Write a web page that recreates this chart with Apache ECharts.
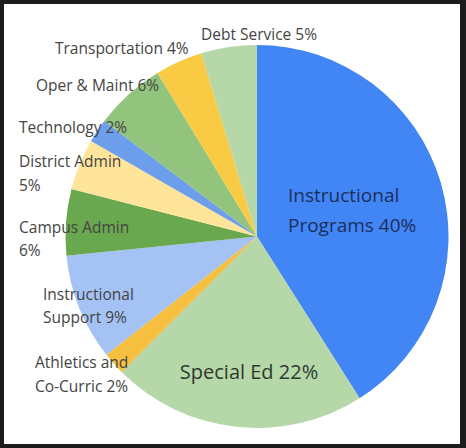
<!DOCTYPE html>
<html>
<head>
<meta charset="utf-8">
<script src="https://cdn.jsdelivr.net/npm/echarts@6/dist/echarts.min.js"></script>
<style>
html,body{margin:0;padding:0;background:#1c1c1c;width:466px;height:448px;overflow:hidden;}
#frame{position:absolute;left:4px;top:4px;width:456px;height:440px;background:#ffffff;}
#chart{position:absolute;left:-4px;top:-4px;width:466px;height:448px;}
</style>
</head>
<body>
<div id="frame"><div id="chart"></div></div>
<script>
// Data (clockwise from 12 o'clock)
const categories = ['Instructional\nPrograms', 'Special Ed', 'Athletics and\nCo-Curric', 'Instructional\nSupport', 'Campus Admin\n', 'District Admin\n', 'Technology', 'Oper & Maint', 'Transportation', 'Debt Service'];
const values = [41, 21.5, 1.9, 9, 5.6, 4.3, 2, 6, 4, 4.7];
const pctLabels = ['40%', '22%', '2%', '9%', '6%', '5%', '2%', '6%', '4%', '5%'];
const colors = ['#4285f4', '#b6d7a8', '#f6bf3f', '#a4c2f4', '#6aa84f', '#ffe599', '#6d9eeb', '#93c47d', '#f9cb45', '#b6d7a8'];

// label layout (style, not data)
const labelPos = [
  {x: 288, y: 210, align: 'left', size: 19, color: '#1b2f5e', lh: 30},
  {x: 249, y: 371, align: 'center', size: 20, color: '#2e3a2e', lh: 24},
  {x: 35, y: 374, align: 'left', size: 15.5, color: '#444444', lh: 24},
  {x: 43, y: 305, align: 'left', size: 15.5, color: '#444444', lh: 23},
  {x: 19, y: 238, align: 'left', size: 15.5, color: '#444444', lh: 23},
  {x: 19, y: 173, align: 'left', size: 15.5, color: '#444444', lh: 24},
  {x: 19, y: 127, align: 'left', size: 15.5, color: '#444444', lh: 20},
  {x: 36, y: 85, align: 'left', size: 15.5, color: '#444444', lh: 20},
  {x: 55, y: 48, align: 'left', size: 15.5, color: '#444444', lh: 20},
  {x: 259, y: 34, align: 'center', size: 15.5, color: '#444444', lh: 20}
];

function labelText(i) {
  const name = categories[i];
  if (name.endsWith('\n')) return name + pctLabels[i];
  return name + ' ' + pctLabels[i];
}

const data = categories.map((c, i) => ({
  name: c,
  value: values[i],
  itemStyle: {color: colors[i]},
  label: {
    formatter: labelText(i),
    fontSize: labelPos[i].size,
    color: labelPos[i].color,
    lineHeight: labelPos[i].lh,
    align: labelPos[i].align
  }
}));

const chart = echarts.init(document.getElementById('chart'), null, {renderer: 'svg'});
chart.setOption({
  animation: false,
  backgroundColor: 'transparent',
  textStyle: {fontFamily: 'Open Sans'},
  series: [{
    type: 'pie',
    center: [257, 236.5],
    radius: 191.5,
    startAngle: 90,
    clockwise: true,
    avoidLabelOverlap: false,
    label: {show: true, position: 'outside', fontFamily: 'Open Sans'},
    labelLine: {show: false},
    labelLayout: function (p) {
      const lp = labelPos[p.dataIndex];
      return {x: lp.x, y: lp.y, align: lp.align, verticalAlign: 'middle', hideOverlap: false, moveOverlap: null};
    },
    itemStyle: {borderWidth: 0},
    emphasis: {disabled: true},
    data: data
  }]
});
</script>
</body>
</html>
